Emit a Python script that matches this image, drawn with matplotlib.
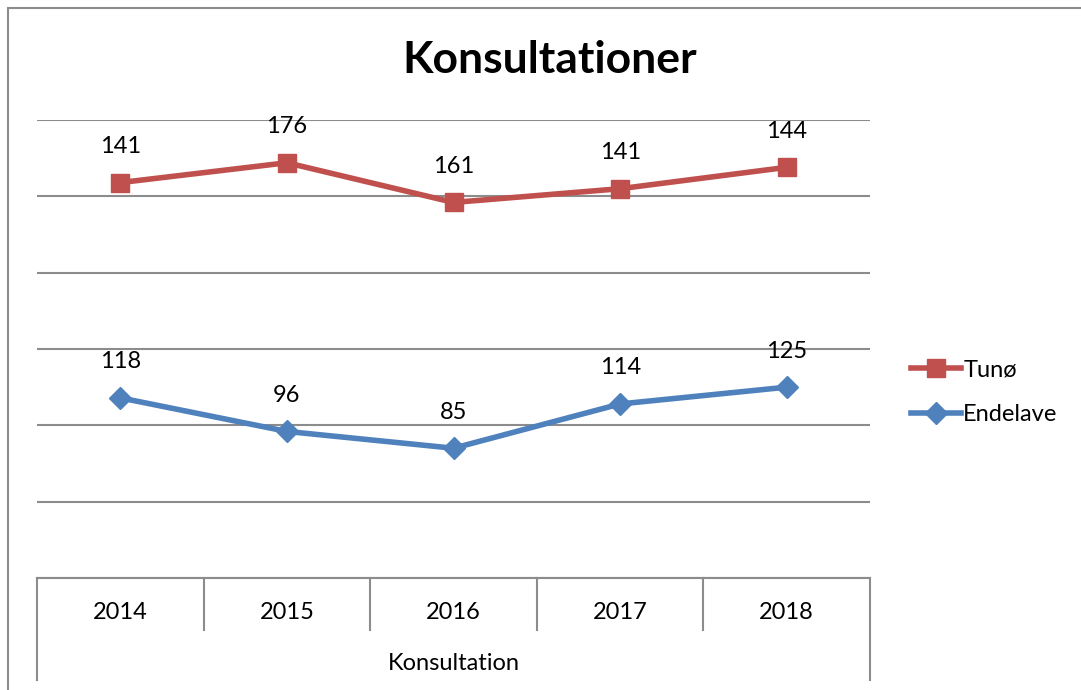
import numpy as np
import matplotlib
matplotlib.use('Agg')
import matplotlib.pyplot as plt
from matplotlib.lines import Line2D
from matplotlib.patches import Rectangle

plt.rcParams['font.family'] = ['Lato', 'DejaVu Sans']

# ── data ─────────────────────────────────────────────
years = ['2014', '2015', '2016', '2017', '2018']
endelave = np.array([118, 96, 85, 114, 125])
tuno = np.array([141, 176, 161, 141, 144])
# Excel "stacked line": Tunø is drawn on top of Endelave
tuno_stacked = endelave + tuno

red = '#C0504D'
blue = '#4F81BD'
grid_c = '#8C8C8C'
fs = 17

fig = plt.figure(figsize=(10.81, 6.90), dpi=100)
fig.patches.append(Rectangle((8 / 1081, -0.1), 1.2, 1 - 8 / 690 + 0.1,
                             transform=fig.transFigure, fill=False,
                             edgecolor='#8C8C8C', linewidth=1.5))

ax = fig.add_axes([37 / 1081, 1 - 578 / 690, 833 / 1081, 458 / 690])
x = np.arange(len(years))

ax.plot(x, tuno_stacked, color=red, lw=4, marker='s', ms=13, label='Tunø', zorder=3)
ax.plot(x, endelave, color=blue, lw=4, marker='D', ms=11, label='Endelave', zorder=3)

for xi, ys, v in zip(x, tuno_stacked, tuno):
    ax.annotate(str(v), (xi, ys), xytext=(0, 26), textcoords='offset points',
                ha='center', va='center', fontsize=fs)
for xi, ys, v in zip(x, endelave, endelave):
    ax.annotate(str(v), (xi, ys), xytext=(0, 26), textcoords='offset points',
                ha='center', va='center', fontsize=fs)

ax.set_xlim(-0.5, len(years) - 0.5)
ax.set_ylim(0, 300)
ax.set_yticks(np.arange(0, 301, 50))
ax.yaxis.grid(True, color=grid_c, lw=1.5)
ax.set_axisbelow(True)
ax.tick_params(left=False, labelleft=False, bottom=False, labelbottom=False)
for s in ['left', 'right', 'top']:
    ax.spines[s].set_visible(False)
ax.spines['bottom'].set_color(grid_c)
ax.spines['bottom'].set_linewidth(1.5)

# category table under the axis
tr = ax.get_xaxis_transform()
for b in np.arange(-0.5, len(years), 1.0):
    outer = b in (-0.5, len(years) - 0.5)
    ax.plot([b, b], [0, -0.222 if outer else -0.1135], transform=tr,
            color=grid_c, lw=1.5, clip_on=False)
for xi, yr in zip(x, years):
    ax.text(xi, -0.076, yr, transform=tr, ha='center', va='center', fontsize=fs)
ax.text(2, -0.186, 'Konsultation', transform=tr, ha='center', va='center', fontsize=fs)

fig.text(550 / 1081, 1 - 60 / 690, 'Konsultationer', ha='center', va='center',
         fontsize=32, fontweight='bold')

handles = [Line2D([], [], color=red, lw=4, marker='s', ms=13),
           Line2D([], [], color=blue, lw=4, marker='D', ms=11)]
fig.legend(handles, ['Tunø', 'Endelave'], loc='center left',
           bbox_to_anchor=(890 / 1081, 1 - 392 / 690), frameon=False,
           fontsize=fs, handlelength=2.1, handletextpad=0.1, labelspacing=1.0)

fig.savefig('out.png', dpi=100)
